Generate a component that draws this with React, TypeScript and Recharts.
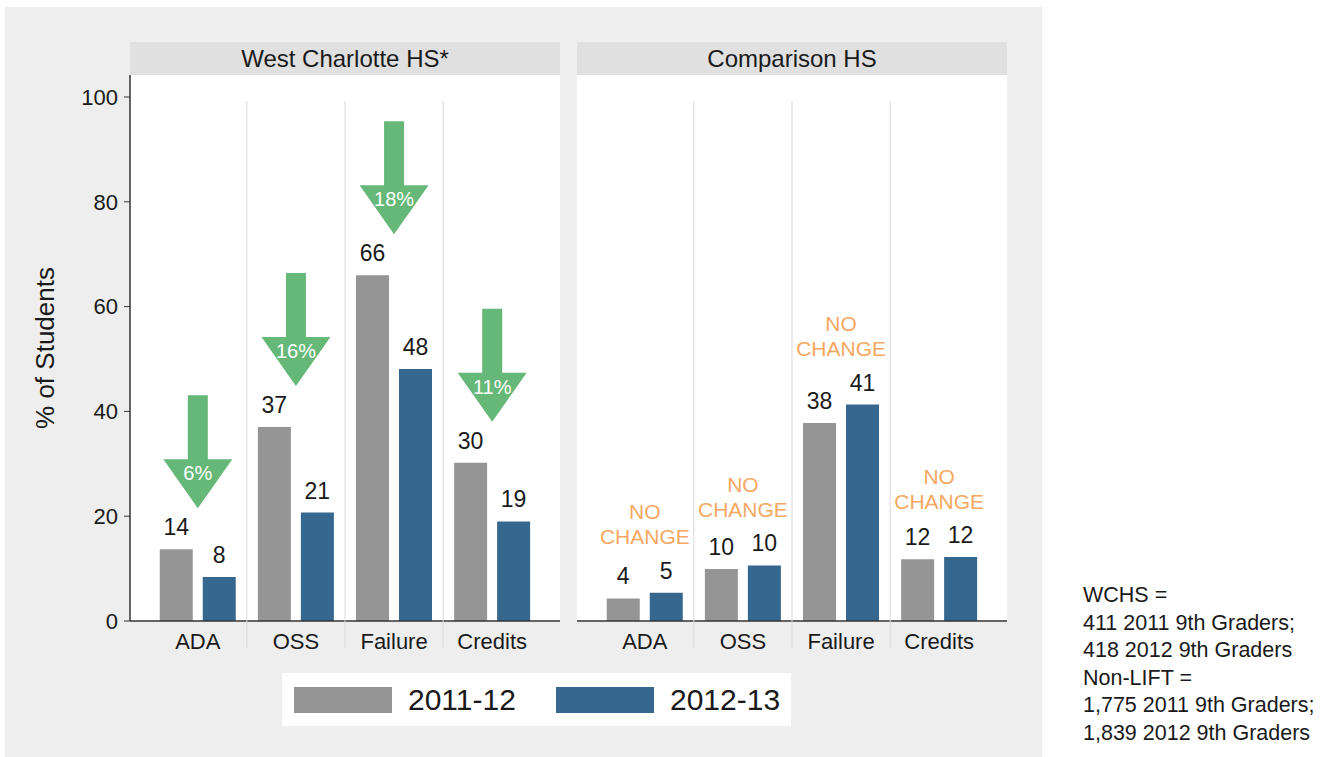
import React from 'react';
import { ComposedChart, Bar, Scatter, XAxis, YAxis, CartesianGrid, LabelList } from 'recharts';

// categories and series
const categories = ['ADA', 'OSS', 'Failure', 'Credits'];
const seriesNames = ['2011-12', '2012-13'];

// West Charlotte HS* (% of students)
const westPrior = [13.7, 37.0, 66.0, 30.2];
const westCurrent = [8.4, 20.7, 48.1, 19.0];
const westPriorLabels = ['14', '37', '66', '30'];
const westCurrentLabels = ['8', '21', '48', '19'];
const westDrops = ['6%', '16%', '18%', '11%'];

// Comparison HS (% of students)
const compPrior = [4.3, 9.9, 37.8, 11.8];
const compCurrent = [5.4, 10.6, 41.3, 12.2];
const compPriorLabels = ['4', '10', '38', '12'];
const compCurrentLabels = ['5', '10', '41', '12'];
const compNotes = ['NO CHANGE', 'NO CHANGE', 'NO CHANGE', 'NO CHANGE'];

const yTicks = [0, 20, 40, 60, 80, 100];
const footnote = [
  'WCHS =',
  '411 2011 9th Graders;',
  '418 2012 9th Graders',
  'Non-LIFT =',
  '1,775 2011 9th Graders;',
  '1,839 2012 9th Graders',
];

const GRAY = '#959595';
const BLUE = '#36678e';
const GREEN = '#66b879';
const ORANGE = '#f5a862';
const INK = '#1a1a1a';
const FONT = '"Liberation Sans", Arial, sans-serif';

const buildRows = (a: number[], b: number[], la: string[], lb: string[], tags: string[]) =>
  categories.map((name, i) => ({
    name,
    prior: a[i],
    current: b[i],
    priorLabel: la[i],
    currentLabel: lb[i],
    peak: Math.max(a[i], b[i]),
    tag: tags[i],
  }));

const westRows = buildRows(westPrior, westCurrent, westPriorLabels, westCurrentLabels, westDrops);
const compRows = buildRows(compPrior, compCurrent, compPriorLabels, compCurrentLabels, compNotes);

const DropArrow = (props: any) => {
  const { cx, cy, payload } = props;
  const tip = cy - 41;
  const headTop = tip - 49;
  const top = headTop - 64;
  const pts = [
    [cx - 10, top], [cx + 10, top], [cx + 10, headTop], [cx + 34.5, headTop],
    [cx, tip], [cx - 34.5, headTop], [cx - 10, headTop],
  ].map((p) => p.join(',')).join(' ');
  return (
    <g>
      <polygon points={pts} fill={GREEN} />
      <text x={cx} y={headTop + 21} textAnchor="middle" fill="#fff" fontSize={20}>{payload.tag}</text>
    </g>
  );
};

const NoChange = (props: any) => {
  const { cx, cy, payload } = props;
  const lines = String(payload.tag).split(' ');
  return (
    <g>
      {lines.map((l: string, i: number) => (
        <text key={i} x={cx} y={cy - 73.5 + i * 25} textAnchor="middle" fill={ORANGE} fontSize={21}>{l}</text>
      ))}
    </g>
  );
};

const CategoryTick = (props: any) => {
  const { x, y, payload } = props;
  const half = payload.offset ?? 49;
  const last = payload.value === categories[categories.length - 1];
  return (
    <g>
      {!last && <line x1={x + half} x2={x + half} y1={y - 520} y2={y + 27} stroke="#d9d9d9" strokeWidth={1} />}
      <text x={x} y={y + 28} textAnchor="middle" fontSize={22} fill={INK}>{payload.value}</text>
    </g>
  );
};

const Panel = ({ rows, showY, marker }: { rows: any[]; showY: boolean; marker: any }) => (
  <ComposedChart
    width={showY ? 570 : 450}
    height={757}
    data={rows}
    margin={{ top: 75, right: 10, bottom: 106, left: showY ? 0 : 10 }}
    barSize={33}
    barGap={10}
  >
    <CartesianGrid horizontal={false} vertical={false} fill="#ffffff" />
    <XAxis
      dataKey="name"
      interval={0}
      tickSize={0}
      tickMargin={0}
      height={30}
      padding={{ left: 18.75, right: 18.75 }}
      axisLine={{ stroke: '#333', strokeWidth: 1.5 }}
      tick={<CategoryTick />}
    />
    <YAxis
      hide={!showY}
      width={130}
      type="number"
      domain={[0, 104.2]}
      allowDataOverflow
      ticks={yTicks}
      tickSize={6}
      tickMargin={6}
      axisLine={{ stroke: '#333', strokeWidth: 1.5 }}
      tickLine={{ stroke: '#333' }}
      tick={{ fontSize: 22, fill: INK }}
      label={{
        content: (p: any) => {
          const vb = p.viewBox || { x: 0, y: 75, width: 130, height: 546 };
          const cx = vb.x + 45;
          const cy = vb.y + vb.height / 2;
          return (
            <text x={cx} y={cy} transform={`rotate(-90 ${cx} ${cy})`} textAnchor="middle" dominantBaseline="central" fontSize={26} fill={INK}>
              % of Students
            </text>
          );
        },
      }}
    />
    <Bar dataKey="prior" name={seriesNames[0]} fill={GRAY} isAnimationActive={false}>
      <LabelList dataKey="priorLabel" position="top" offset={14} fontSize={23} fill={INK} />
    </Bar>
    <Bar dataKey="current" name={seriesNames[1]} fill={BLUE} isAnimationActive={false}>
      <LabelList dataKey="currentLabel" position="top" offset={14} fontSize={23} fill={INK} />
    </Bar>
    <Scatter dataKey="peak" shape={marker} legendType="none" isAnimationActive={false} />
  </ComposedChart>
);

const Header = ({ left, title }: { left: number; title: string }) => (
  <div
    style={{
      position: 'absolute', left, top: 42, width: 430, height: 33, background: '#e0e0e0',
      fontSize: 24, lineHeight: '33px', textAlign: 'center', color: INK,
    }}
  >
    {title}
  </div>
);

export default function App() {
  const swatches = [GRAY, BLUE];
  return (
    <div style={{ position: 'absolute', left: 0, top: 0, width: 1321, height: 757, background: '#fff', fontFamily: FONT, overflow: 'hidden' }}>
      <div style={{ position: 'absolute', left: 5, top: 7, width: 1037, height: 750, background: '#eeeeee' }} />
      <Header left={130} title="West Charlotte HS*" />
      <Header left={577} title="Comparison HS" />
      <div style={{ position: 'absolute', left: 0, top: 0 }}>
        <Panel rows={westRows} showY marker={DropArrow} />
      </div>
      <div style={{ position: 'absolute', left: 567, top: 0 }}>
        <Panel rows={compRows} showY={false} marker={NoChange} />
      </div>
      <div style={{ position: 'absolute', left: 282, top: 673, width: 509, height: 53, background: '#fff' }}>
        {seriesNames.map((s, i) => (
          <div key={s} style={{ position: 'absolute', left: 12 + i * 262, top: 0, height: 53, display: 'flex', alignItems: 'center' }}>
            <div style={{ width: 98, height: 26, background: swatches[i] }} />
            <span style={{ marginLeft: 16, fontSize: 30, color: INK }}>{s}</span>
          </div>
        ))}
      </div>
      <div style={{ position: 'absolute', left: 1083, top: 582, fontSize: 21.5, lineHeight: '27.6px', color: INK }}>
        {footnote.map((l) => (
          <div key={l}>{l}</div>
        ))}
      </div>
    </div>
  );
}
